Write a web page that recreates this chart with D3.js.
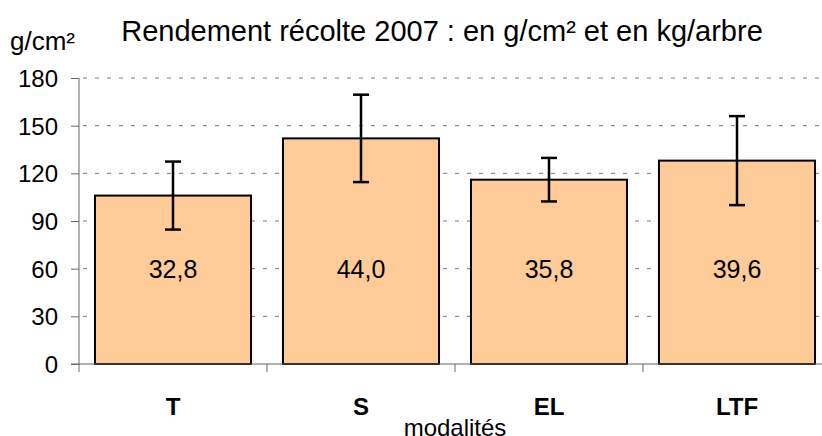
<!DOCTYPE html>
<html>
<head>
<meta charset="utf-8">
<script src="https://cdn.jsdelivr.net/npm/d3@7"></script>
<style>
  body { margin: 0; background: #fff; }
  svg { display: block; font-family: "Liberation Sans", Arial, sans-serif; }
</style>
</head>
<body>
<svg width="822" height="436"></svg>
<script>
// data
var categories = ["T", "S", "EL", "LTF"];
var rendement = [106, 142, 116, 128];      // g/cm²
var ecart = [21.4, 27.5, 13.7, 28];        // error bar half width
var kgArbre = ["32,8", "44,0", "35,8", "39,6"];
var yTicks = [0, 30, 60, 90, 120, 150, 180];

function draw() {
  var svg = d3.select("svg");
  var pLeft = 79, pRight = 831, pTop = 78, pBottom = 364;

  var x = d3.scaleBand().domain(categories).range([pLeft, pRight]).paddingInner(0.17).paddingOuter(0.085);
  var y = d3.scaleLinear().domain([0, 180]).range([pBottom, pTop]);

  // dashed gridlines
  svg.append("g").selectAll("line")
    .data(yTicks.filter(d => d > 0))
    .enter().append("line")
    .attr("x1", pLeft + 4).attr("x2", 822)
    .attr("y1", d => y(d)).attr("y2", d => y(d))
    .attr("stroke", "#777").attr("stroke-width", 1)
    .attr("stroke-dasharray", "4,8");

  // bars
  svg.append("g").selectAll("rect")
    .data(rendement)
    .enter().append("rect")
    .attr("x", (d, i) => x(categories[i]))
    .attr("y", d => y(d))
    .attr("width", x.bandwidth())
    .attr("height", d => pBottom - y(d))
    .attr("fill", "#FFCC99")
    .attr("stroke", "#000")
    .attr("stroke-width", 2);

  // values in kg/arbre
  svg.append("g").selectAll("text")
    .data(kgArbre)
    .enter().append("text")
    .attr("x", (d, i) => x(categories[i]) + x.bandwidth() / 2)
    .attr("y", y(60) + 9)
    .attr("text-anchor", "middle")
    .style("font-size", "25px")
    .text(d => d);

  // error bars
  var err = svg.append("g").attr("stroke", "#000").attr("stroke-width", 2.5);
  rendement.forEach(function(v, i) {
    var cx = x(categories[i]) + x.bandwidth() / 2;
    err.append("line").attr("x1", cx).attr("x2", cx).attr("y1", y(v + ecart[i])).attr("y2", y(v - ecart[i]));
    err.append("line").attr("x1", cx - 8).attr("x2", cx + 8).attr("y1", y(v + ecart[i])).attr("y2", y(v + ecart[i]));
    err.append("line").attr("x1", cx - 8).attr("x2", cx + 8).attr("y1", y(v - ecart[i])).attr("y2", y(v - ecart[i]));
  });

  // y axis
  var yAxis = d3.axisLeft(y).tickValues(yTicks).tickSize(8).tickPadding(13);
  var gy = svg.append("g").attr("transform", "translate(" + pLeft + ",0)").call(yAxis);
  gy.select(".domain").attr("stroke", "#666").attr("d", "M0," + (pBottom + 8) + "V" + pTop);
  gy.selectAll(".tick line").attr("stroke", "#666");
  gy.selectAll(".tick text").style("font-size", "24px").style("font-family", "Liberation Sans, Arial, sans-serif").attr("fill", "#000").attr("dy", "0.35em");

  // x axis line and boundary ticks
  svg.append("line").attr("x1", pLeft - 8).attr("x2", 822).attr("y1", pBottom).attr("y2", pBottom)
    .attr("stroke", "#666").attr("stroke-width", 1);
  var step = x.step();
  svg.append("g").selectAll("line")
    .data(d3.range(1, categories.length))
    .enter().append("line")
    .attr("x1", d => pLeft + d * step).attr("x2", d => pLeft + d * step)
    .attr("y1", pBottom).attr("y2", pBottom + 8)
    .attr("stroke", "#666");

  // category labels
  svg.append("g").selectAll("text")
    .data(categories)
    .enter().append("text")
    .attr("x", (d, i) => pLeft + (i + 0.5) * step)
    .attr("y", 415)
    .attr("text-anchor", "middle")
    .style("font-size", "24px")
    .style("font-weight", "bold")
    .text(d => d);

  // titles
  svg.append("text").attr("x", 442).attr("y", 41).attr("text-anchor", "middle")
    .style("font-size", "29px").text("Rendement récolte 2007 : en g/cm² et en kg/arbre");
  svg.append("text").attr("x", 10).attr("y", 50)
    .style("font-size", "26px").text("g/cm²");
  svg.append("text").attr("x", (pLeft + pRight) / 2).attr("y", 436).attr("text-anchor", "middle")
    .style("font-size", "24px").text("modalités");
}
draw();
</script>
</body>
</html>
